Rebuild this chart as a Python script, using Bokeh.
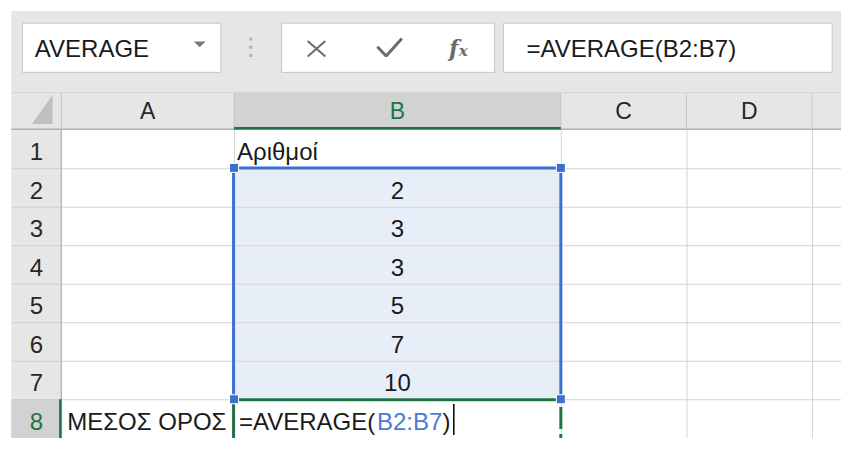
from bokeh.plotting import figure
from bokeh.models import Range1d, ColumnDataSource
from bokeh.core.properties import value
from bokeh.embed import file_html
from bokeh.resources import INLINE

# ---------------- data ----------------
name_box_text = "AVERAGE"
formula_text = "=AVERAGE(B2:B7)"
columns = ["A", "B", "C", "D"]
rows = ["1", "2", "3", "4", "5", "6", "7", "8"]
header = "Αριθμοί"
numbers = [2, 3, 3, 5, 7, 10]
label = "ΜΕΣΟΣ ΟΡΟΣ"
formula_parts = ["=AVERAGE(", "B2:B7", ")"]

# ---------------- layout / style ----------------
FONT = "Liberation Sans"
FS = 24.0
GREEN = "#217346"
BLUE = "#3b70cf"
BLUE_TXT = "#4a7bd6"
GRAY = "#e6e6e6"
HILITE = "#d2d2d2"
GRID = "#d4d4d4"
TXT = "#1a1a1a"
HDR_TXT = "#262626"
TY = -8.8          # text baseline correction (data units)
XS = 857.0 / 841.0  # data units per screen px horizontally

col_edges = [62, 238, 571, 699, 827]
col_right = [238, 571, 699, 827]
ROW0, ROWH = 134.0, 39.9
row_top = [ROW0 + ROWH * i for i in range(len(rows) + 1)]
BASE = 31.5 + TY  # baseline offset from row top

# Arial / Liberation Sans advance widths (per 1000 em)
ADV = {'=': 584, 'A': 667, 'V': 667, 'E': 667, 'R': 722, 'G': 778, '(': 333,
       ')': 333, 'B': 667, '2': 556, '7': 556, ':': 278}


def text_w(s, fs):
    return sum(ADV.get(c, 600) for c in s) * fs / 1000.0 * XS


p = figure(width=841, height=438, x_range=Range1d(0, 857), y_range=Range1d(454, 0),
           output_backend="svg", toolbar_location=None, min_border=0)
p.axis.visible = False
p.grid.visible = False
p.outline_line_color = None
p.background_fill_color = "white"
p.border_fill_color = "white"


def txt(xs, ys, texts, size=FS, color=TXT, align="left", font=FONT, style="normal"):
    src = ColumnDataSource(dict(x=xs, y=ys, t=texts))
    p.text(x="x", y="y", text="t", source=src, text_font=value(font),
           text_font_size=value(f"{size}px"), text_color=color, text_align=align,
           text_baseline="alphabetic", text_font_style=style)


# ---------- backgrounds ----------
p.quad(left=[11], right=[857], top=[11], bottom=[134], fill_color=GRAY, line_color=None)
p.quad(left=[11], right=[62], top=[134], bottom=[454], fill_color=GRAY, line_color=None)
# highlighted headers
p.quad(left=[238], right=[571], top=[96], bottom=[133], fill_color=HILITE, line_color=None)
p.quad(left=[11], right=[61], top=[row_top[7]], bottom=[454], fill_color=HILITE, line_color=None)

# ---------- formula bar ----------
p.quad(left=[22.5, 286.5, 512.5], right=[224.5, 503.5, 847.5], top=[23.5] * 3,
       bottom=[74.5] * 3, fill_color="white", line_color="#c6c6c6", line_width=1)
# dropdown triangle
p.patch(x=[197, 209, 203], y=[42.5, 42.5, 48.5], fill_color="#7a7a7a", line_color=None)
# grip dots
p.scatter(x=[255, 255, 255], y=[40, 48.5, 57], size=3, marker="square",
          fill_color="#b4b4b4", line_color=None)
# X
p.segment(x0=[313, 313], y0=[42, 58], x1=[331, 331], y1=[58, 42],
          line_color="#6b6b6b", line_width=2)
# check mark
p.line(x=[384, 393, 409], y=[48, 57.5, 39.5], line_color="#6b6b6b", line_width=3)
# fx
txt([457], [57 - 8.0], ["f"], size=22, color="#6b6b6b", font="DejaVu Serif", style="bold italic")
txt([467], [58 - 5.6], ["x"], size=15, color="#6b6b6b", font="DejaVu Serif", style="bold italic")
# name box & formula text
txt([35], [58.5 + TY], [name_box_text], size=FS, color=TXT)
txt([536], [58.5 + TY], [formula_text], size=FS, color=TXT)

# ---------- header lines ----------
p.segment(x0=[11], y0=[95.5], x1=[857], y1=[95.5], line_color="#d6d6d6", line_width=1)
p.segment(x0=col_edges, y0=[96] * len(col_edges), x1=col_edges, y1=[133] * len(col_edges),
          line_color="#c6c6c6", line_width=1)
# corner triangle
p.patch(x=[32, 53, 53], y=[128, 128, 98], fill_color="#bfbfbf", line_color=None)
# header text
col_cx = [(col_edges[i] + col_right[i]) / 2 for i in range(len(columns))]
col_colors = [GREEN if c == "B" else HDR_TXT for c in columns]
src = ColumnDataSource(dict(x=col_cx, y=[123.5 + TY] * len(columns), t=columns, c=col_colors))
p.text(x="x", y="y", text="t", source=src, text_font=value(FONT), text_font_size=value("23px"),
       text_color="c", text_align="center", text_baseline="alphabetic")

# ---------- grid ----------
# selection fill first
p.quad(left=[238], right=[571], top=[row_top[1]], bottom=[row_top[7]], fill_color="#e8eef8",
       line_color=None)
hy = [y + 0.5 for y in row_top[1:8]]
p.segment(x0=[62] * len(hy), y0=hy, x1=[857] * len(hy), y1=hy, line_color=GRID, line_width=1)
p.segment(x0=[11] * len(hy), y0=hy, x1=[62] * len(hy), y1=hy, line_color="#cfcfcf", line_width=1)
vx = [238.5, 571.5, 699.5, 827.5]
p.segment(x0=vx, y0=[134] * 4, x1=vx, y1=[454] * 4, line_color=GRID, line_width=1)
# header bottom line and row-header right line
p.segment(x0=[11], y0=[133.5], x1=[857], y1=[133.5], line_color="#b0b0b0", line_width=1.5)
p.segment(x0=[62], y0=[133], x1=[62], y1=[454], line_color="#b8b8b8", line_width=1.5)
# green header highlights
p.segment(x0=[238], y0=[132.5], x1=[571], y1=[132.5], line_color=GREEN, line_width=2.5)
p.segment(x0=[61], y0=[row_top[7]], x1=[61], y1=[454], line_color=GREEN, line_width=2.5)

# row labels
rl_colors = [GREEN if r == "8" else HDR_TXT for r in rows]
src = ColumnDataSource(dict(x=[36.5] * len(rows), y=[row_top[i] + BASE for i in range(len(rows))],
                            t=rows, c=rl_colors))
p.text(x="x", y="y", text="t", source=src, text_font=value(FONT), text_font_size=value(f"{FS}px"),
       text_color="c", text_align="center", text_baseline="alphabetic")

# ---------- selection border (blue) ----------
top, bot = row_top[1] - 0.4, row_top[7]
p.segment(x0=[237.5, 571, 238], y0=[top, top, top], x1=[237.5, 571, 571], y1=[bot, bot, top],
          line_color=BLUE, line_width=3)

# ---------- active cell B8 (green) ----------
p.segment(x0=[241], y0=[bot + 0.5], x1=[568], y1=[bot + 0.5], line_color=GREEN, line_width=3)
p.segment(x0=[237.5], y0=[bot + 4], x1=[237.5], y1=[454], line_color=GREEN, line_width=3)
p.segment(x0=[571], y0=[bot + 8], x1=[571], y1=[454], line_color=GREEN, line_width=3,
          line_dash="22 5")
# corner squares
p.scatter(x=[238, 571, 238, 571], y=[top, top, bot, bot], size=9, marker="square",
          fill_color=BLUE, line_color="white", line_width=1)

# ---------- cell text ----------
txt([241], [row_top[0] + BASE], [header])
num_y = [row_top[i + 1] + BASE for i in range(len(numbers))]
txt([404.5] * len(numbers), num_y, [str(v) for v in numbers], align="center")
txt([68], [row_top[7] + BASE], [label])
# formula being typed in B8, with coloured reference
x0 = 243
part_x = []
for part in formula_parts:
    part_x.append(x0)
    x0 += text_w(part, FS)
part_colors = [TXT, BLUE_TXT, TXT]
src = ColumnDataSource(dict(x=part_x, y=[row_top[7] + BASE] * 3, t=formula_parts, c=part_colors))
p.text(x="x", y="y", text="t", source=src, text_font=value(FONT), text_font_size=value(f"{FS}px"),
       text_color="c", text_align="left", text_baseline="alphabetic")
# text cursor
p.segment(x0=[x0 + 3.5], y0=[row_top[7] + 5], x1=[x0 + 3.5], y1=[row_top[7] + 37],
          line_color="black", line_width=1.5)

open("out.html", "w").write(file_html(p, INLINE))
